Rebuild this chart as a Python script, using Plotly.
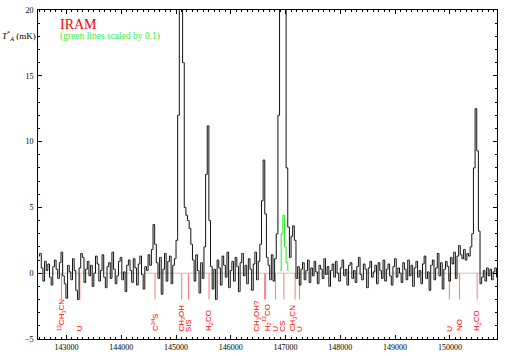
import numpy as np
import plotly.graph_objects as go

# spectrum channels (MHz): 30 MHz wide, starting at 142480
f_start = 142480.0
chan_width = 30.0

t_mk = [
    1.3, 1.5, 0.4, -0.6, 0.9, 0.2, 0.7, -0.3, -0.9, 0.5, 1.0, 0.3, -0.4, 0.8, 1.6, -0.2, -0.8, -1.9, 0.6, 0.1,
    -0.5, 1.1, 0.2, -1.3, -2.0, 0.4, 1.5, 1.2, -0.7, 0.3, 0.9, -0.2, 0.6, -1.0, 0.0, 1.3, 0.7, -0.6, 0.2, 1.4,
    -0.3, -1.1, 0.5, 0.8, -0.4, 1.6, 0.3, -0.8, -0.2, 0.9, 1.2, -0.5, 0.1, -1.4, 0.6, 1.0, 0.2, -0.7, 1.1, 0.4,
    -0.9, 0.7, 1.3, -0.1, -1.2, 0.5, 0.2, 1.4, 0.6, 1.8, 3.7, 2.2, 0.8, -0.4, 1.2, -1.6, 0.3, 1.5, -0.6, 0.9,
    1.3, -0.8, 0.6, 1.1, 2.5, 12.0, 28.0, 34.0, 16.0, 5.0, 4.4, 4.0, 3.4, 2.2, 1.0, -0.6, 1.4, 0.2, -1.5, 0.8,
    -0.4, 2.0, 7.5, 11.2, 4.0, 0.5, -1.2, 0.3, -2.0, 1.0, 0.4, -0.9, 1.3, 0.6, -0.3, 1.6, -1.1, 0.2, 0.9, -0.6,
    1.2, 0.5, -1.4, 0.8, 1.5, -0.2, 0.6, -0.8, 1.1, 0.3, -1.3, 0.7, 1.6, -0.5, 0.9, 2.2, 5.5, 8.6, 4.5, 1.2,
    0.6, -0.5, 1.4, -0.6, 1.1, 3.0, 12.0, 22.0, 30.0, 44.0, 24.0, 8.0, 3.5, 1.2, 2.8, 3.6, 2.5, -0.4, 0.5, -0.9,
    0.3, 0.8, -0.5, 0.2, 1.0, -0.7, 0.4, -0.2, 0.9, 0.1, -0.8, 0.6, 0.3, -0.4, 1.1, -0.1, 0.5, -1.0, 0.2, 0.7,
    -0.3, 0.9, 0.0, -0.6, 0.4, 1.0, -0.2, 0.3, -0.9, 0.6, 0.8, -0.4, 0.2, -0.7, 0.5, 1.2, -0.1, -0.5, 0.7, 0.3,
    -1.1, 0.4, 0.9, -0.3, 0.1, 0.6, -0.8, 0.8, 0.2, -0.4, 1.0, -0.6, 0.3, 0.7, -0.2, -0.9, 0.5, 1.1, -0.3, 0.4,
    0.0, -0.7, 0.8, 0.3, -0.5, 1.0, -0.2, 0.6, -1.0, 0.4, 0.9, -0.3, 0.2, -0.8, 0.7, 1.3, -0.4, 0.1, -1.3, 0.6,
    1.0, -0.5, 0.4, 1.5, -0.2, 0.8, -1.2, 0.3, 0.9, 0.5, -0.6, 1.2, 0.7, 1.6, -0.4, 1.3, 2.1, 1.4, 1.1, 1.8,
    1.0, 1.5, 1.3, 2.0, 3.0, 8.0, 12.5, 9.3, 3.2, -0.8, -0.3, 0.2, -0.6, 0.4, -0.2, 0.3, -0.5, 0.1, 0.4, -0.3,
]

# CS line scaled by 0.1 (green), channels 147..152
green_first = 147
green_t = [0.2, 3.0, 4.4, 2.0, 0.8, 0.2]

# line identifications
mark_freq = [142908, 143244, 144617, 145103, 145227, 145603, 146618, 146635,
             146815, 146969, 147174, 147255, 149990, 150176, 150498]
label_freq = [142908, 143244, 144617, 145103, 145227, 145603, 146484, 146667,
              146815, 146950, 147152, 147254, 149990, 150176, 150498]
labels = ["<sup>13</sup>CH<sub>3</sub>CN", "U", "C<sup>34</sup>S",
          "CH<sub>3</sub>OH", "SiS", "H<sub>2</sub>CO", "CH<sub>3</sub>OH?",
          "H<sub>2</sub><sup>13</sup>CO", "U", "CS", "CH<sub>3</sub>CN", "U",
          "U", "NO", "H<sub>2</sub>CO"]

serif = "Liberation Serif, Times New Roman, serif"
sans = "Liberation Sans, Arial, sans-serif"
freq = f_start + chan_width * (np.arange(len(t_mk)) + 0.5)

fig = go.Figure()

# zero line
fig.add_trace(go.Scatter(x=[142480, 150860], y=[0, 0], mode="lines",
                         line=dict(color="rgb(215,190,190)", width=1),
                         hoverinfo="skip"))

# identification ticks
mx, my = [], []
for f in mark_freq:
    mx += [f, f, None]
    my += [0, -2, None]
fig.add_trace(go.Scatter(x=mx, y=my, mode="lines",
                         line=dict(color="rgb(255,120,120)", width=1)))

fig.add_trace(go.Scatter(x=freq, y=t_mk, mode="lines", line_shape="hvh",
                         line=dict(color="#111111", width=1)))

gf = freq[green_first:green_first + len(green_t)]
fig.add_trace(go.Scatter(x=gf, y=green_t, mode="lines", line_shape="hvh",
                         line=dict(color="rgb(40,230,40)", width=1)))

for f, lab in zip(label_freq, labels):
    fig.add_annotation(x=f, y=-4.5, text=lab, textangle=-90, showarrow=False,
                       xanchor="center", yanchor="bottom", borderpad=0,
                       font=dict(family=sans, size=8, color="red"))

fig.add_annotation(xref="paper", yref="paper", x=0.045, y=0.955, text="IRAM",
                   showarrow=False, xanchor="left", yanchor="middle", borderpad=0,
                   font=dict(family=serif, size=14, color="red"))
fig.add_annotation(xref="paper", yref="paper", x=0.045, y=0.92,
                   text="(green lines scaled by 0.1)", showarrow=False,
                   xanchor="left", yanchor="middle", borderpad=0,
                   font=dict(family=serif, size=9.5, color="rgb(60,235,60)"))
fig.add_annotation(xref="paper", yref="paper", x=-0.003, y=0.924,
                   text="<i>T</i><sup>*</sup><sub><i>A</i></sub> (mK)",
                   showarrow=False, xanchor="right", yanchor="middle",
                   borderpad=0, font=dict(family=serif, size=9, color="black"))

axis_style = dict(showline=True, linecolor="black", linewidth=1, mirror="allticks",
                  ticks="inside", ticklen=4, tickcolor="black", showgrid=False,
                  zeroline=False, automargin=False,
                  tickfont=dict(family=serif, size=8, color="black"))

fig.update_xaxes(range=[142480, 150860], dtick=1000, tick0=143000,
                 tickformat="d", minor=dict(dtick=100, ticks="inside", ticklen=2,
                                           tickcolor="black"), **axis_style)
fig.update_yaxes(range=[-5, 20], dtick=5, ticklabelstandoff=2,
                 minor=dict(dtick=1, ticks="inside", ticklen=2, tickcolor="black"),
                 **axis_style)

fig.update_layout(width=509, height=356, showlegend=False,
                  margin=dict(l=38, r=12, t=10, b=17),
                  plot_bgcolor="white", paper_bgcolor="white")

# drop the browser's default page margin so the figure sits at the corner
fig.write_html("out.html", config={"displayModeBar": False},
               post_script="document.body.style.margin='0px';")
